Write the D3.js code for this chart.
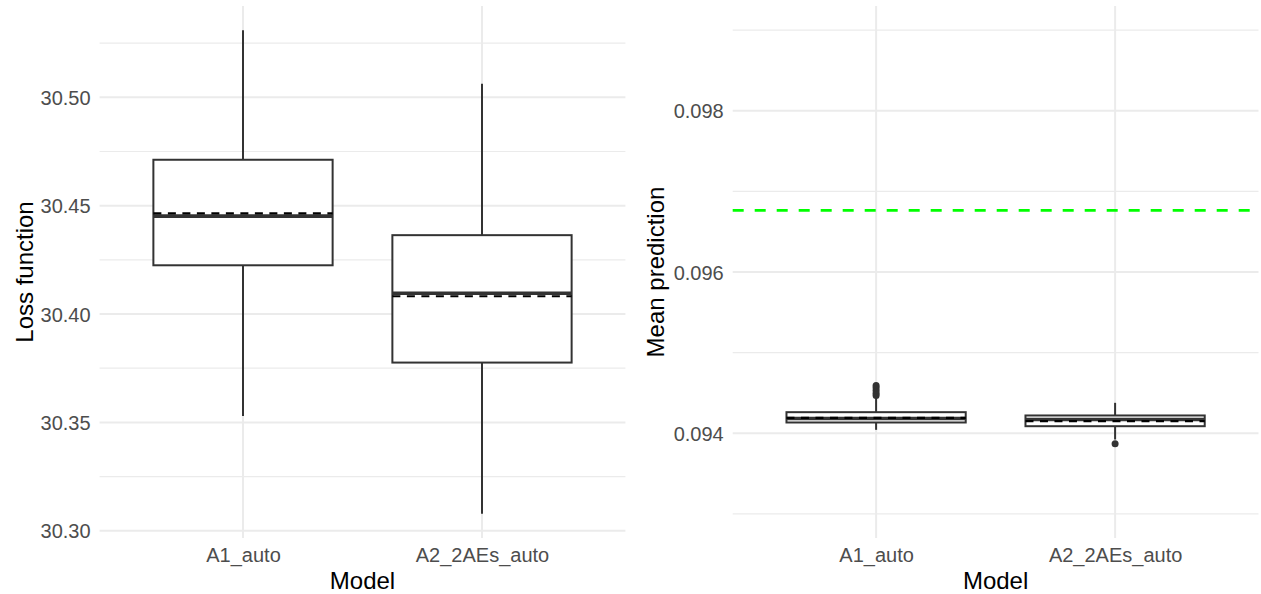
<!DOCTYPE html>
<html>
<head>
<meta charset="utf-8">
<script src="https://cdn.jsdelivr.net/npm/d3@7"></script>
<style>
  body { margin: 0; background: #fff; }
  svg { display: block; font-family: "Liberation Sans", Arial, sans-serif; }
  .grid-major { stroke: #ebebeb; stroke-width: 2; }
  .grid-minor { stroke: #ebebeb; stroke-width: 1.2; }
  .tick text { fill: #4d4d4d; font-size: 20px; }
  .axis-title { fill: #000; font-size: 24px; }
</style>
</head>
<body>
<svg id="chart" width="1261" height="594"></svg>
<script>
const models = ['A1_auto', 'A2_2AEs_auto'];

// left panel: loss function per model (boxplot stats)
const lossLower  = [30.3529, 30.3078];
const lossQ1     = [30.4225, 30.3776];
const lossMedian = [30.4452, 30.4096];
const lossQ3     = [30.4712, 30.4364];
const lossUpper  = [30.5310, 30.5063];
const lossMean   = [30.4465, 30.4082];
const lossOutliers = [[], []];
const lossTicks = [30.30, 30.35, 30.40, 30.45, 30.50];
const lossMinor = [30.325, 30.375, 30.425, 30.475, 30.525];

// right panel: mean prediction per model
const predLower  = [0.094042, 0.093922];
const predQ1     = [0.094133, 0.094087];
const predMedian = [0.094182, 0.094170];
const predQ3     = [0.094261, 0.094220];
const predUpper  = [0.094439, 0.094377];
const predMean   = [0.094191, 0.094149];
const predOutliers = [[0.094468, 0.094497, 0.094530, 0.094563, 0.094592], [0.093868]];
const predLimits = [0.093, 0.099];
const observedMean = 0.096765;
const predTicks = [0.094, 0.096, 0.098];
const predMinor = [0.093, 0.095, 0.097, 0.099];

const svg = d3.select('#chart');
const panelTop = 6, panelBottom = 538;

const toRows = (lo, q1, med, q3, hi, mean, outl) =>
  models.map((m, i) => ({
    model: m, lower: lo[i], q1: q1[i], median: med[i], q3: q3[i],
    upper: hi[i], mean: mean[i], outliers: outl[i]
  }));

// ggplot-like 5% expansion around the limits
const expand = ([a, b]) => {
  const pad = (b - a) * 0.05;
  return [a - pad, b + pad];
};

function drawPanel(opts) {
  const { x0, x1, rows, domain, ticks, minor, fmt, yTitle, yTitleX, hline } = opts;
  const g = svg.append('g');

  const x = d3.scalePoint().domain(models).range([x0, x1]).padding(0.6);
  const y = d3.scaleLinear().domain(expand(domain)).range([panelBottom, panelTop]);
  const boxW = x.step() * 0.75;

  // grid
  g.selectAll('.grid-minor').data(minor).enter().append('line')
    .attr('class', 'grid-minor')
    .attr('x1', x0).attr('x2', x1)
    .attr('y1', d => y(d)).attr('y2', d => y(d));
  g.selectAll('.grid-major.h').data(ticks).enter().append('line')
    .attr('class', 'grid-major h')
    .attr('x1', x0).attr('x2', x1)
    .attr('y1', d => y(d)).attr('y2', d => y(d));
  g.selectAll('.grid-major.v').data(models).enter().append('line')
    .attr('class', 'grid-major v')
    .attr('x1', d => x(d)).attr('x2', d => x(d))
    .attr('y1', panelTop).attr('y2', panelBottom);

  // axes (labels only)
  g.append('g')
    .attr('transform', `translate(${x0},0)`)
    .call(d3.axisLeft(y).tickValues(ticks).tickFormat(fmt).tickSize(0).tickPadding(9))
    .call(a => a.select('.domain').remove())
    .selectAll('text').attr('dy', '0.36em');
  g.append('g')
    .attr('transform', `translate(0,${panelBottom})`)
    .call(d3.axisBottom(x).tickSize(0).tickPadding(9))
    .call(a => a.select('.domain').remove())
    .selectAll('text').attr('dy', '0.74em');

  g.append('text').attr('class', 'axis-title')
    .attr('text-anchor', 'middle')
    .attr('x', (x0 + x1) / 2).attr('y', 589)
    .text('Model');
  g.append('text').attr('class', 'axis-title')
    .attr('text-anchor', 'middle')
    .attr('transform', `translate(${yTitleX},${(panelTop + panelBottom) / 2}) rotate(-90)`)
    .text(yTitle);

  // boxes
  const box = g.selectAll('.box').data(rows).enter().append('g')
    .attr('class', 'box');
  box.append('line')
    .attr('x1', d => x(d.model)).attr('x2', d => x(d.model))
    .attr('y1', d => y(d.upper)).attr('y2', d => y(d.q3))
    .attr('stroke', '#333').attr('stroke-width', 2);
  box.append('line')
    .attr('x1', d => x(d.model)).attr('x2', d => x(d.model))
    .attr('y1', d => y(d.q1)).attr('y2', d => y(d.lower))
    .attr('stroke', '#333').attr('stroke-width', 2);
  box.append('rect')
    .attr('x', d => x(d.model) - boxW / 2)
    .attr('width', boxW)
    .attr('y', d => y(d.q3))
    .attr('height', d => y(d.q1) - y(d.q3))
    .attr('fill', '#fff').attr('stroke', '#333').attr('stroke-width', 2);
  box.append('line')
    .attr('x1', d => x(d.model) - boxW / 2).attr('x2', d => x(d.model) + boxW / 2)
    .attr('y1', d => y(d.median)).attr('y2', d => y(d.median))
    .attr('stroke', '#333').attr('stroke-width', 3.6);
  box.selectAll('circle').data(d => d.outliers.map(v => ({ model: d.model, v })))
    .enter().append('circle')
    .attr('cx', d => x(d.model)).attr('cy', d => y(d.v))
    .attr('r', 3.5).attr('fill', '#333');
  // mean, dashed
  box.append('line')
    .attr('x1', d => x(d.model) - boxW / 2).attr('x2', d => x(d.model) + boxW / 2)
    .attr('y1', d => y(d.mean)).attr('y2', d => y(d.mean))
    .attr('stroke', '#000').attr('stroke-width', 2.2)
    .attr('stroke-dasharray', '8,6.5');

  if (hline !== undefined) {
    g.append('line')
      .attr('x1', x0).attr('x2', x1)
      .attr('y1', y(hline)).attr('y2', y(hline))
      .attr('stroke', '#00ff00').attr('stroke-width', 2.6)
      .attr('stroke-dasharray', '11,11');
  }
}

const lossRows = toRows(lossLower, lossQ1, lossMedian, lossQ3, lossUpper, lossMean, lossOutliers);
const lossExtent = [
  d3.min(lossRows, d => Math.min(d.lower, ...d.outliers)),
  d3.max(lossRows, d => Math.max(d.upper, ...d.outliers))
];

drawPanel({
  x0: 99.6, x1: 625.4,
  rows: lossRows,
  domain: lossExtent,
  ticks: lossTicks, minor: lossMinor,
  fmt: d3.format('.2f'),
  yTitle: 'Loss function', yTitleX: 33
});

drawPanel({
  x0: 732.7, x1: 1258.5,
  rows: toRows(predLower, predQ1, predMedian, predQ3, predUpper, predMean, predOutliers),
  domain: predLimits,
  ticks: predTicks, minor: predMinor,
  fmt: d3.format('.3f'),
  yTitle: 'Mean prediction', yTitleX: 664,
  hline: observedMean
});
</script>
</body>
</html>
